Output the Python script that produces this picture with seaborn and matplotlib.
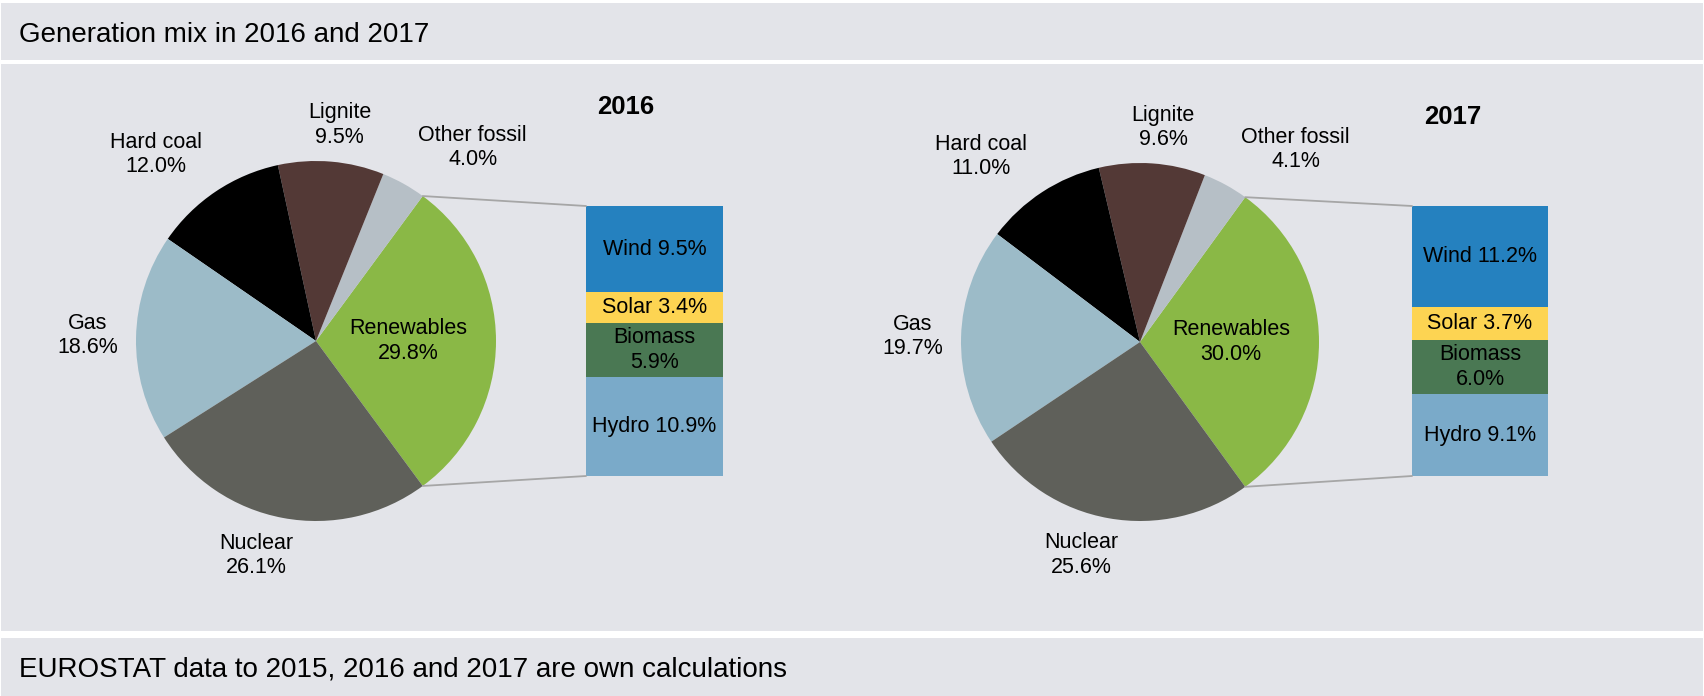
import numpy as np
import matplotlib
matplotlib.use("Agg")
import matplotlib.pyplot as plt
from matplotlib.patches import Rectangle, ConnectionPatch
import seaborn as sns

# data
sources = ["Renewables", "Other fossil", "Lignite", "Hard coal", "Gas", "Nuclear"]
share_2016 = [29.8, 4.0, 9.5, 12.0, 18.6, 26.1]
share_2017 = [30.0, 4.1, 9.6, 11.0, 19.7, 25.6]

renew_parts = ["Wind", "Solar", "Biomass", "Hydro"]
renew_2016 = [9.5, 3.4, 5.9, 10.9]
renew_2017 = [11.2, 3.7, 6.0, 9.1]

years = ["2016", "2017"]

# styling
pie_colors = ["#8AB846", "#B6BFC6", "#533936", "#000000", "#9CBBC8", "#5F605A"]
bar_colors = ["#2581BF", "#FDD452", "#4A7853", "#7AAAC9"]
panel = "#E3E4E9"
line_col = "#A6A6A6"

sns.set_theme(style="white", rc={"text.color": "black"})
plt.rcParams["font.family"] = ["Liberation Sans", "DejaVu Sans"]

W, H = 1704, 696
fig = plt.figure(figsize=(W / 100, H / 100), dpi=100)
fig.patch.set_facecolor("white")


def rect(x0, y0, x1, y1):
    # pixel box (top-left origin) -> figure fraction
    return [x0 / W, 1 - y1 / H, (x1 - x0) / W, (y1 - y0) / H]


# grey bands
for y0, y1 in [(3, 60), (64, 631), (638, 696)]:
    r = rect(1, y0, W - 1, y1)
    fig.add_artist(Rectangle((r[0], r[1]), r[2], r[3], transform=fig.transFigure,
                             facecolor=panel, edgecolor="none", zorder=-10))

fig.text(19 / W, 1 - 42 / H, "Generation mix in 2016 and 2017", fontsize=20,
         va="baseline", ha="left")
fig.text(19 / W, 1 - 676 / H, "EUROSTAT data to 2015, 2016 and 2017 are own calculations",
         fontsize=20, va="baseline", ha="left")

# label positions in pie radius units, relative to pie centre
label_pos = {
    "Renewables": (0.51, 0.0),
    "Other fossil": (0.87, 1.075),
    "Lignite": (0.13, 1.20),
    "Hard coal": (-0.89, 1.035),
    "Gas": (-1.27, 0.03),
    "Nuclear": (-0.33, -1.19),
}

layouts = [
    dict(cx=316, cy=341, r=180, bar=(586, 723), year_xy=(626, 107)),
    dict(cx=1140, cy=342, r=179, bar=(1412, 1548), year_xy=(1453, 117)),
]

for year, shares, parts, lay in zip(years, [share_2016, share_2017],
                                    [renew_2016, renew_2017], layouts):
    cx, cy, r = lay["cx"], lay["cy"], lay["r"]
    ax = fig.add_axes(rect(cx - r, cy - r, cx + r, cy + r))
    start = -shares[0] * 1.8
    ax.pie(shares, colors=pie_colors, startangle=start, counterclock=True,
           radius=1, wedgeprops=dict(linewidth=0))
    ax.set_xlim(-1, 1)
    ax.set_ylim(-1, 1)
    ax.axis("off")
    for name, val in zip(sources, shares):
        lx, ly = label_pos[name]
        ax.text(lx, ly, f"{name}\n{val:.1f}%", ha="center", va="center",
                fontsize=15.5, linespacing=1.2, clip_on=False, color="black")

    # stacked bar for renewables split
    bx0, bx1 = lay["bar"]
    bax = fig.add_axes(rect(bx0, 206, bx1, 476))
    bottoms = np.concatenate([[0], np.cumsum(parts)[:-1]])
    bax.bar([0] * len(parts), parts, bottom=bottoms, width=1.0,
            color=bar_colors, linewidth=0)
    bax.set_xlim(-0.5, 0.5)
    bax.set_ylim(sum(parts), 0)
    bax.axis("off")
    for name, val, b in zip(renew_parts, parts, bottoms):
        sep = "\n" if name == "Biomass" else " "
        bax.text(0, b + val / 2, f"{name}{sep}{val:.1f}%", ha="center", va="center",
                 fontsize=15.5, linespacing=1.2, color="black")

    # connector lines from the renewables slice to the bar
    a_top = np.deg2rad(start + shares[0] * 3.6)
    a_bot = np.deg2rad(start)
    for ang, yb in [(a_top, 0), (a_bot, sum(parts))]:
        con = ConnectionPatch(xyA=(np.cos(ang), np.sin(ang)), coordsA=ax.transData,
                              xyB=(-0.5, yb), coordsB=bax.transData,
                              color=line_col, linewidth=1.3)
        fig.add_artist(con)

    yx, yy = lay["year_xy"]
    fig.text(yx / W, 1 - yy / H, year, fontsize=18.5, fontweight="bold",
             ha="center", va="center", color="black")

fig.savefig("out.png", dpi=100)
